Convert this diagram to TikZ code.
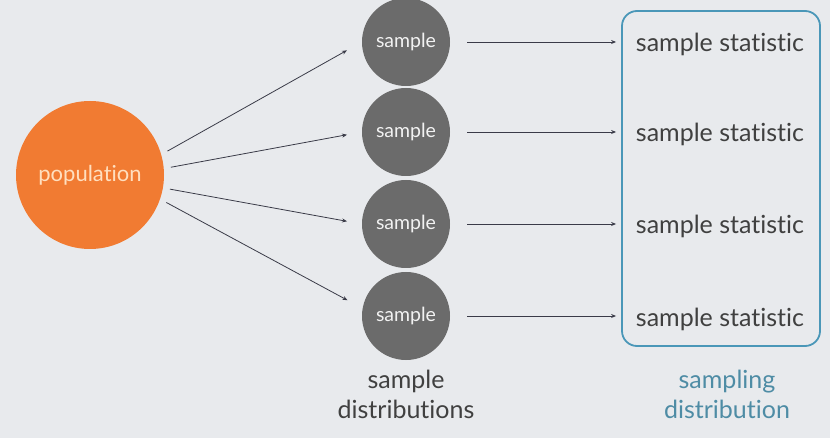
\documentclass[tikz,border=0pt]{standalone}
\usepackage{fontspec}
\setmainfont[Ligatures=NoCommon]{Lato}
\usetikzlibrary{arrows.meta}
\definecolor{bgcol}{HTML}{E8EAED}
\definecolor{popcol}{HTML}{F17B32}
\definecolor{samcol}{HTML}{6B6B6B}
\definecolor{boxcol}{HTML}{4A97B8}
\definecolor{labcol}{HTML}{4E8CA5}
\definecolor{arrcol}{HTML}{3A3B48}
\begin{document}
\begin{tikzpicture}[x=1pt,y=-1pt,
    samplenode/.style={circle,fill=samcol,text=white!90!gray,inner sep=0pt,minimum size=88pt,font=\fontsize{19.5}{22}\selectfont},
    statnode/.style={text=black!75,font=\fontsize{25}{30}\selectfont},
    lab/.style={align=center,font=\fontsize{25}{30}\selectfont},
    arr/.style={draw=arrcol,line width=0.8pt,-{Stealth[length=5pt,width=4pt]}}]
    \fill[bgcol] (0,0) rectangle (830,438);
    \useasboundingbox (0,0) rectangle (830,438);
    \node[circle,fill=popcol,text=orange!25!white,inner sep=0pt,minimum size=148pt,font=\fontsize{22}{26}\selectfont] (pop) at (90,175) {population};
    \node[samplenode] (s1) at (406,42) {sample};
    \node[samplenode] (s2) at (406,132) {sample};
    \node[samplenode] (s3) at (406,224) {sample};
    \node[samplenode] (s4) at (406,316) {sample};
    \node[draw=boxcol,line width=1.8pt,rounded corners=15pt,minimum width=198pt,minimum height=335pt] (box) at (721,178.5) {};
    \node[statnode] (t1) at (720,44) {sample statistic};
    \node[statnode] (t2) at (720,134) {sample statistic};
    \node[statnode] (t3) at (720,226) {sample statistic};
    \node[statnode] (t4) at (720,319) {sample statistic};
    \node[lab,text=black!75] (dl) at (406,394) {sample\\[0pt]distributions};
    \node[lab,text=labcol] (sl) at (727,394) {sampling\\[0pt]distribution};
    \draw[arr,shorten <=7pt,shorten >=17pt] (pop.16) -- (s1.west);
    \draw[arr,shorten <=7pt,shorten >=15pt] (pop.5) -- (s2.west);
    \draw[arr,shorten <=7pt,shorten >=15pt] (pop.-10) -- (s3.west);
    \draw[arr,shorten <=7pt,shorten >=17pt] (pop.-19) -- (s4.170);
    \foreach \i in {1,2,3,4}
        \draw[arr,shorten <=17pt,shorten >=5pt] (s\i.east) -- (s\i.east -| box.west);
\end{tikzpicture}
\end{document}
